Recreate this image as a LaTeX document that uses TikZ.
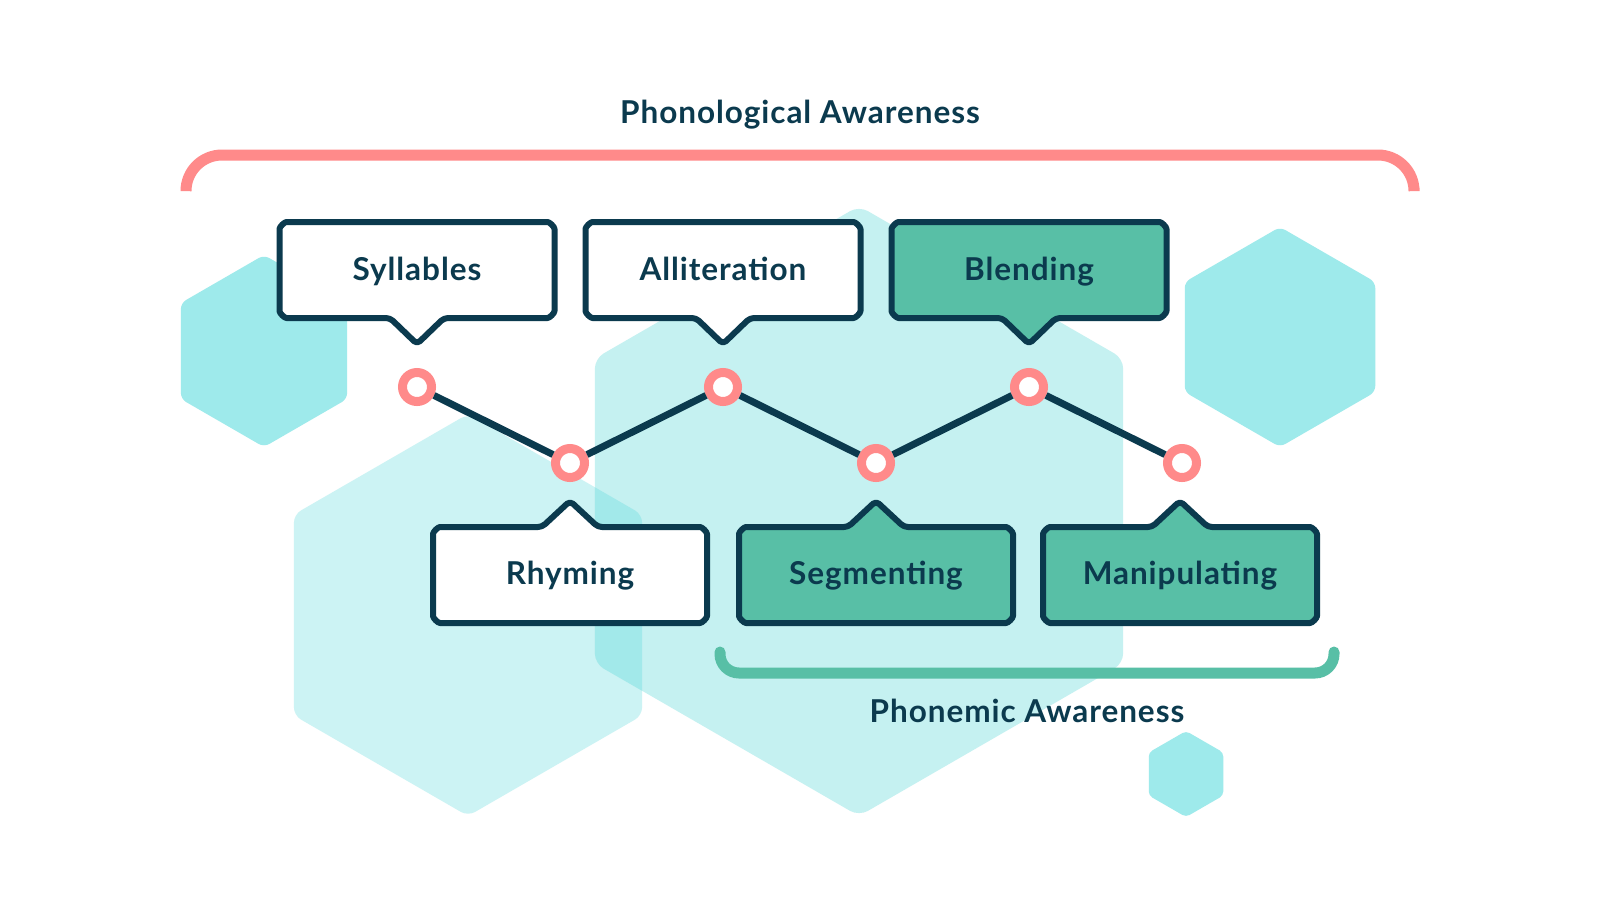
\documentclass[tikz,border=0pt]{standalone}
\usepackage{fontspec}
\setmainfont{Lato}[LetterSpace=3]
\definecolor{navy}{HTML}{0B3A4E}
\definecolor{coral}{HTML}{FF8A8A}
\definecolor{mint}{HTML}{58BFA6}
\definecolor{hexa}{HTML}{9EEAEB}
\definecolor{hexb}{HTML}{C5F1F1}
\definecolor{hexc}{HTML}{CCF3F4}
\definecolor{hexo}{HTML}{A2E9EA}
\newcommand\hexpath[3]{(#1,#2) +(90:#3) -- +(150:#3) -- +(210:#3) -- +(270:#3) -- +(330:#3) -- +(30:#3) -- cycle}
% top box with pointer down at cx
\newcommand\topbox[2]{\draw[boxline,fill=#2,rounded corners=4pt]
  (#1,222) -- (#1+126.5,222) .. controls (#1+132.6,222) and (#1+137.5,226.9) .. (#1+137.5,233)
  -- (#1+137.5,307) .. controls (#1+137.5,313.1) and (#1+132.6,318) .. (#1+126.5,318)
  -- (#1+27,318) -- (#1,344) -- (#1-27,318)
  -- (#1-126.5,318) .. controls (#1-132.6,318) and (#1-137.5,313.1) .. (#1-137.5,307)
  -- (#1-137.5,233) .. controls (#1-137.5,226.9) and (#1-132.6,222) .. (#1-126.5,222) -- cycle;}
% bottom box with pointer up at cx
\newcommand\botbox[2]{\draw[boxline,fill=#2,rounded corners=4pt]
  (#1,623) -- (#1+126,623) .. controls (#1+132.1,623) and (#1+137,618.1) .. (#1+137,612)
  -- (#1+137,538) .. controls (#1+137,531.9) and (#1+132.1,527) .. (#1+126,527)
  -- (#1+28,527) -- (#1,501) -- (#1-28,527)
  -- (#1-126,527) .. controls (#1-132.1,527) and (#1-137,531.9) .. (#1-137,538)
  -- (#1-137,612) .. controls (#1-137,618.1) and (#1-132.1,623) .. (#1-126,623) -- cycle;}
\begin{document}
\begin{tikzpicture}[x=1pt,y=-1pt,
  boxline/.style={draw=navy,line width=6pt,line join=round},
  lbl/.style={text=navy,font=\fontsize{31.5}{36}\selectfont\bfseries,inner sep=0pt,anchor=base},
  dot/.style={circle,draw=coral,fill=white,line width=9pt,minimum size=29pt,inner sep=0pt},
  bracket/.style={line width=11pt,line cap=round,rounded corners=36pt}]
\useasboundingbox (0,0) rectangle (1600,900);
\fill[white] (0,0) rectangle (1600,900);
% hexagons
\fill[hexa,rounded corners=6pt] \hexpath{264}{351}{96};
\fill[hexa,rounded corners=6pt] \hexpath{1280}{337}{110};
\fill[hexa,rounded corners=4pt] \hexpath{1186}{774}{43};
\fill[hexc,rounded corners=8pt] \hexpath{468}{615}{201};
\fill[hexb,rounded corners=10pt] \hexpath{859}{511}{305};
\begin{scope}
\clip[rounded corners=8pt] \hexpath{468}{615}{201};
\fill[hexo,rounded corners=10pt] \hexpath{859}{511}{305};
\end{scope}
% brackets
\coordinate (bl1) at (186,188);
\coordinate (bl2) at (1414,188);
\draw[bracket,draw=coral] (bl1) -- (186,155) -- (1414,155) -- (bl2);
\coordinate (gl1) at (720,652);
\coordinate (gl2) at (1334,652);
\draw[bracket,draw=mint,rounded corners=19pt] (gl1) -- (720,673) -- (1334,673) -- (gl2);
\node[lbl] (pho) at (800,123) {Phonological Awareness};
\node[lbl] (phm) at (1027,722) {Phonemic Awareness};
% zigzag
\node[dot] (c1) at (417,387) {};
\node[dot] (c2) at (570,463) {};
\node[dot] (c3) at (723,387) {};
\node[dot] (c4) at (876,463) {};
\node[dot] (c5) at (1029,387) {};
\node[dot] (c6) at (1182,463) {};
\draw[navy,line width=7pt] (c1) -- (c2) -- (c3) -- (c4) -- (c5) -- (c6);
% boxes
\topbox{417}{white}
\topbox{723}{white}
\topbox{1029}{mint}
\botbox{570}{white}
\botbox{876}{mint}
\botbox{1180}{mint}
\node[lbl] (syl) at (417,280) {Syllables};
\node[lbl] (all) at (723,280) {Alliteration};
\node[lbl] (ble) at (1029,280) {Blending};
\node[lbl] (rhy) at (570,584) {Rhyming};
\node[lbl] (seg) at (876,584) {Segmenting};
\node[lbl] (man) at (1180,584) {Manipulating};
\end{tikzpicture}
\end{document}
